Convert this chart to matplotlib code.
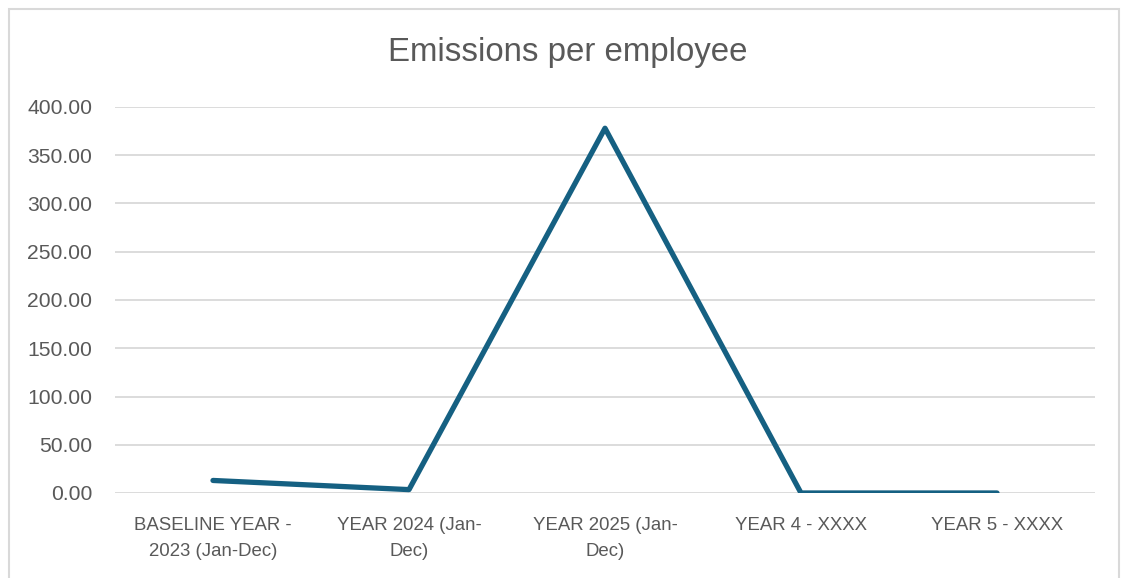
import matplotlib
matplotlib.use("Agg")
import matplotlib.pyplot as plt
from matplotlib.patches import Rectangle

categories = ["BASELINE YEAR -\n2023 (Jan-Dec)", "YEAR 2024 (Jan-\nDec)",
              "YEAR 2025 (Jan-\nDec)", "YEAR 4 - XXXX", "YEAR 5 - XXXX"]
values = [13.0, 3.5, 378.0, 0.0, 0.0]
yticks = [0, 50, 100, 150, 200, 250, 300, 350, 400]

W, H = 1122, 578
plt.rcParams['font.family'] = ['Liberation Sans', 'DejaVu Sans']
fig = plt.figure(figsize=(W / 100, H / 100), dpi=100)
fig.patch.set_facecolor('white')

# outer chart border
fig.patches.append(Rectangle((9 / W, -0.01), (1119 - 9) / W, 1 - 9 / H + 0.01,
                             transform=fig.transFigure, fill=False,
                             edgecolor='#d9d9d9', linewidth=1.5))

ax = fig.add_axes([115 / W, 1 - 493 / H, (1095 - 115) / W, (493 - 107) / H])
x = list(range(len(categories)))
ax.plot(x, values, color='#156082', linewidth=3.8,
        solid_capstyle='round', solid_joinstyle='round', zorder=3)

ax.set_xlim(-0.5, len(categories) - 0.5)
ax.set_ylim(0, 400)
ax.set_yticks(yticks)
ax.set_yticklabels([f"{v:.2f}" for v in yticks])
ax.set_xticks(x)
ax.set_xticklabels(categories)
ax.grid(axis='y', color='#d9d9d9', linewidth=1.3, zorder=0)
ax.set_axisbelow(True)
for s in ax.spines.values():
    s.set_visible(False)
ax.tick_params(axis='both', length=0, colors='#595959')
ax.tick_params(axis='y', labelsize=15.2, pad=16.5)
ax.tick_params(axis='x', labelsize=13.4, pad=17)
for lbl in ax.get_xticklabels():
    lbl.set_linespacing(1.75)

fig.text((388 + 747) / 2 / W, 1 - 52 / H, "Emissions per employee",
         ha='center', va='center', fontsize=23.8, color='#595959')

fig.savefig("out.png", dpi=100, facecolor='white')
